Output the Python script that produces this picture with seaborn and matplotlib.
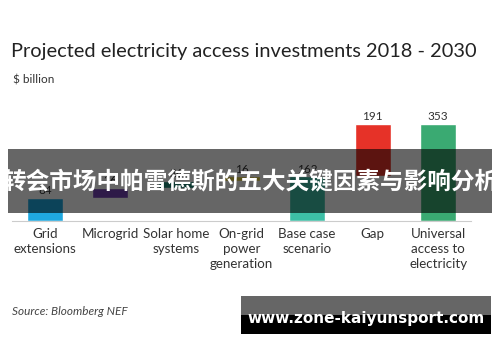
import matplotlib
matplotlib.use("Agg")
import matplotlib.pyplot as plt
import seaborn as sns
from matplotlib.patches import Rectangle

categories = ["Grid\nextensions", "Microgrid", "Solar home\nsystems", "On-grid\npower\ngeneration",
              "Base case\nscenario", "Gap", "Universal\naccess to\nelectricity"]
values = [84, 36, 26, 16, 162, 191, 353]
bottoms = [0, 84, 120, 146, 0, 162, 0]
colors = ["#1fa8e0", "#7341b4", "#1f8a7a", "#e0cc40", "#3dbfa6", "#e63228", "#3aaa72"]

sns.set_theme(style="white")
plt.rcParams["font.family"] = ["Lato", "DejaVu Sans"]

fig = plt.figure(figsize=(5, 3.62), dpi=100)
ax = fig.add_axes([0.024, 0.3895, 0.918, 0.3039])

sns.barplot(x=categories, y=values, hue=categories, palette=colors, legend=False,
            width=0.55, saturation=1, ax=ax)

# turn plain bars into floating waterfall bars
for patch, b, v in zip(ax.patches, bottoms, values):
    patch.set_y(b)
    ax.text(patch.get_x() + patch.get_width() / 2, b + v + 6, str(v),
            ha="center", va="bottom", fontsize=8.5, color="#333333")

ax.set_xlim(-0.5, 6.5)
ax.set_ylim(0, 400)
ax.set_yticks([])
for s in ["top", "right", "left"]:
    ax.spines[s].set_visible(False)
ax.spines["bottom"].set_color("#cccccc")
ax.spines["bottom"].set_linewidth(0.8)
ax.set_xticks([i - 0.5 for i in range(8)], minor=True)
ax.tick_params(axis="x", which="minor", length=3, color="#cccccc", width=0.8, direction="inout")
ax.tick_params(axis="x", which="major", length=0, labelsize=9.6, labelcolor="#333333", pad=5)
for lbl in ax.get_xticklabels():
    lbl.set_linespacing(1.3)
ax.set_xlabel("")
ax.set_ylabel("")

fig.text(0.022, 0.858, "Projected electricity access investments 2018 - 2030",
         fontsize=14.4, color="#222222", va="center")
fig.text(0.026, 0.78, "$ billion", fontsize=8.5, color="#333333", va="center")
fig.text(0.024, 0.14, "Source: Bloomberg NEF", fontsize=8.5, style="italic",
         color="#444444", va="center")

# overlay banner
fig.patches.append(Rectangle((0.016, 0.4116), 0.968, 0.1768, transform=fig.transFigure,
                             facecolor="black", alpha=0.6, edgecolor="none", zorder=10))
fig.text(0.5, 0.5, "转会市场中帕雷德斯的五大关键因素与影响分析", ha="center", va="center",
         fontsize=17, fontweight="bold", color="white", zorder=11,
         family=["Noto Sans CJK SC", "DejaVu Sans"])

# watermark box
fig.patches.append(Rectangle((0.482, 0.0773), 0.5, 0.0525, transform=fig.transFigure,
                             facecolor="black", edgecolor="none", zorder=10))
fig.patches.append(Rectangle((0.482, 0.1298), 0.5, 0.0525, transform=fig.transFigure,
                             facecolor="#666666", edgecolor="none", zorder=10))
fig.text(0.732, 0.069 + 0.0525, "www.zone-kaiyunsport.com", ha="center", va="center",
         fontsize=11, fontweight="bold", color="white", zorder=11,
         family=["DejaVu Sans"])

fig.savefig("out.png", dpi=100)
